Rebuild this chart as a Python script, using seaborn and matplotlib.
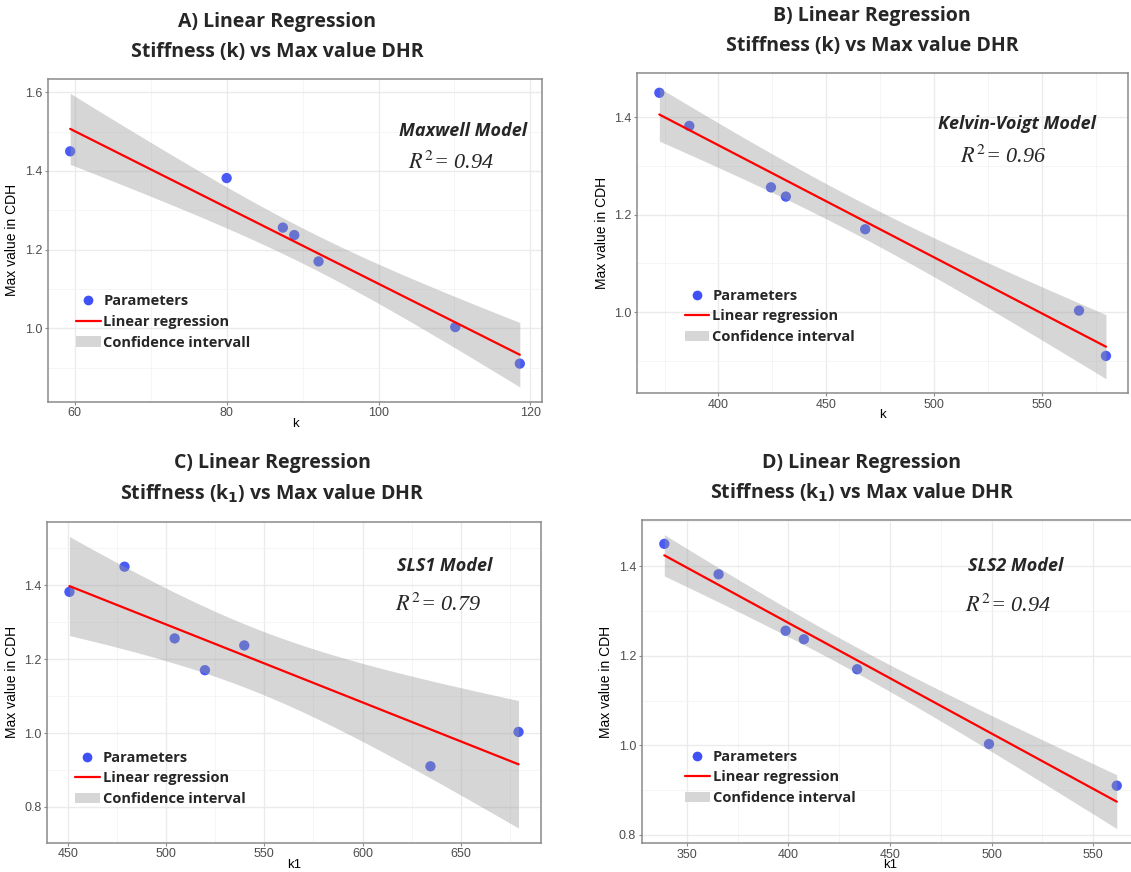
import numpy as np
import pandas as pd
import matplotlib
matplotlib.use("Agg")
import matplotlib.pyplot as plt
from matplotlib.lines import Line2D
from matplotlib.patches import Patch
from matplotlib.ticker import MultipleLocator
import seaborn as sns

# ---------------- data ----------------
max_cdh = [1.450, 1.382, 1.256, 1.237, 1.170, 1.003, 0.910]

k_maxwell = [59.4, 80.0, 87.4, 88.9, 92.1, 110.1, 118.6]
k_kelvin = [372.6, 386.5, 424.4, 431.3, 468.1, 567.3, 579.8]
k1_sls1 = [478.9, 450.9, 504.4, 539.8, 519.8, 679.3, 634.5]
k1_sls2 = [338.9, 365.6, 398.6, 407.6, 433.8, 498.7, 561.6]

panel_titles = [
    "A) Linear Regression\nStiffness (k) vs Max value DHR",
    "B) Linear Regression\nStiffness (k) vs Max value DHR",
    "C) Linear Regression\nStiffness (k$\\mathbf{_1}$) vs Max value DHR",
    "D) Linear Regression\nStiffness (k$\\mathbf{_1}$) vs Max value DHR",
]
model_names = ["Maxwell Model", "Kelvin-Voigt Model", "SLS1 Model", "SLS2 Model"]
r2_labels = ["$R^2$= 0.94", "$R^2$= 0.96", "$R^2$= 0.79", "$R^2$= 0.94"]
x_labels = ["k", "k", "k1", "k1"]
ci_labels = ["Confidence intervall", "Confidence interval", "Confidence interval", "Confidence interval"]
y_label = "Max value in CDH"
T_975_DF5 = 2.5706  # t quantile, 95% level, n-2 = 5 dof

# ---------------- style ----------------
sns.set_theme(style="whitegrid")
plt.rcParams["font.family"] = ["Liberation Sans", "DejaVu Sans"]
plt.rcParams["mathtext.fontset"] = "dejavusans"

W, H = 1131, 872
fig = plt.figure(figsize=(W / 100, H / 100), dpi=100)
fig.patch.set_facecolor("white")

def px_axes(l, t, r, b):
    return [l / W, 1 - b / H, (r - l) / W, (b - t) / H]

axes_px = [
    (47.7, 78.7, 542.3, 401.7),
    (637.0, 73.3, 1128.3, 393.3),
    (47.0, 522.0, 541.0, 842.7),
    (641.7, 520.0, 1139.4, 843.3),
]
xs_all = [k_maxwell, k_kelvin, k1_sls1, k1_sls2]
x_major = [20, 50, 50, 50]
y_major = [0.2, 0.2, 0.2, 0.2]

title_pos = [(277, 22, 52), (872, 16, 46), (272, 463, 494), (862, 463, 493)]
model_pos = [(463, 131, 451, 163), (1017, 124, 1003, 157),
             (445, 566, 438, 605), (1016, 566, 1008, 606)]
legend_anchor = [(0.045, 0.35), (0.085, 0.345), (0.045, 0.305), (0.075, 0.307)]

POINT_C = "#3F51F5"
BAND_C = "#999999"

for i in range(4):
    ax = fig.add_axes(px_axes(*axes_px[i]))
    x = np.array(xs_all[i], dtype=float)
    y = np.array(max_cdh, dtype=float)
    df = pd.DataFrame({"x": x, "y": y})

    # analytic 95% confidence band of the lm fit (as geom_smooth)
    n = len(x)
    b1, b0 = np.polyfit(x, y, 1)
    xg = np.linspace(x.min(), x.max(), 80)
    fit = b0 + b1 * xg
    resid = y - (b0 + b1 * x)
    s = np.sqrt(np.sum(resid ** 2) / (n - 2))
    se = s * np.sqrt(1 / n + (xg - x.mean()) ** 2 / np.sum((x - x.mean()) ** 2))
    lo, hi = fit - T_975_DF5 * se, fit + T_975_DF5 * se

    sns.scatterplot(data=df, x="x", y="y", ax=ax, color=POINT_C, s=55,
                    edgecolor="none", alpha=0.95, zorder=2, legend=False)
    ax.fill_between(xg, lo, hi, color=BAND_C, alpha=0.4, lw=0, zorder=3)
    sns.regplot(data=df, x="x", y="y", ax=ax, scatter=False, ci=None,
                truncate=True, line_kws=dict(color="red", lw=1.6, zorder=4))

    # ggplot-like 5% expansion
    xmin, xmax = x.min(), x.max()
    xr = xmax - xmin
    ax.set_xlim(xmin - 0.05 * xr, xmax + 0.05 * xr)
    ymin = min(lo.min(), y.min())
    ymax = max(hi.max(), y.max())
    yr = ymax - ymin
    ax.set_ylim(ymin - 0.05 * yr, ymax + 0.05 * yr)

    ax.xaxis.set_major_locator(MultipleLocator(x_major[i]))
    ax.xaxis.set_minor_locator(MultipleLocator(x_major[i] / 2))
    ax.yaxis.set_major_locator(MultipleLocator(y_major[i]))
    ax.yaxis.set_minor_locator(MultipleLocator(y_major[i] / 2))
    ax.yaxis.set_major_formatter(matplotlib.ticker.FormatStrFormatter("%.1f"))

    ax.set_facecolor("white")
    ax.grid(True, which="major", color="#EBEBEB", lw=1.0, zorder=0)
    ax.grid(True, which="minor", color="#F4F4F4", lw=0.6, zorder=0)
    ax.set_axisbelow(True)
    for sp in ax.spines.values():
        sp.set_color("#8A8A8A")
        sp.set_linewidth(1.1)
        sp.set_visible(True)
    ax.tick_params(which="major", length=2.5, width=0.8, color="#8A8A8A",
                   labelsize=9, labelcolor="#4D4D4D", pad=1.5,
                   bottom=True, left=True)
    ax.tick_params(which="minor", length=0)

    ax.set_xlabel(x_labels[i], fontsize=9.5, color="black", labelpad=-1)
    ax.set_ylabel(y_label, fontsize=10, color="black", labelpad=4)

    handles = [
        Line2D([], [], marker="o", ls="none", markerfacecolor=POINT_C,
               markeredgecolor="none", markersize=7),
        Line2D([], [], color="red", lw=1.6),
        Patch(facecolor="#D6D6D6", edgecolor="none"),
    ]
    leg = ax.legend(handles, ["Parameters", "Linear regression", ci_labels[i]],
                    loc="upper left", bbox_to_anchor=legend_anchor[i],
                    frameon=False, handlelength=1.7, handletextpad=0.2,
                    labelspacing=0.45, borderaxespad=0,
                    prop=dict(family="Open Sans", weight="bold", size=10.5))
    leg.set_zorder(6)

    # titles and annotations
    tx, ty1, ty2 = title_pos[i]
    t1, t2 = panel_titles[i].split("\n")
    fig.text(tx / W, 1 - ty1 / H, t1, ha="center", va="center",
             fontsize=14, fontweight="bold", family="Open Sans")
    fig.text(tx / W, 1 - ty2 / H, t2, ha="center", va="center",
             fontsize=14, fontweight="bold", family="Open Sans")

    mx, my, rx, ry = model_pos[i]
    fig.text(mx / W, 1 - my / H, model_names[i], ha="center", va="center",
             fontsize=13, fontweight="bold", style="italic", family="Open Sans")
    fig.text(rx / W, 1 - ry / H, r2_labels[i], ha="center", va="center",
             fontsize=16, style="italic", family="Liberation Serif",
             math_fontfamily="stix")

fig.savefig("out.png", dpi=100, facecolor="white")
